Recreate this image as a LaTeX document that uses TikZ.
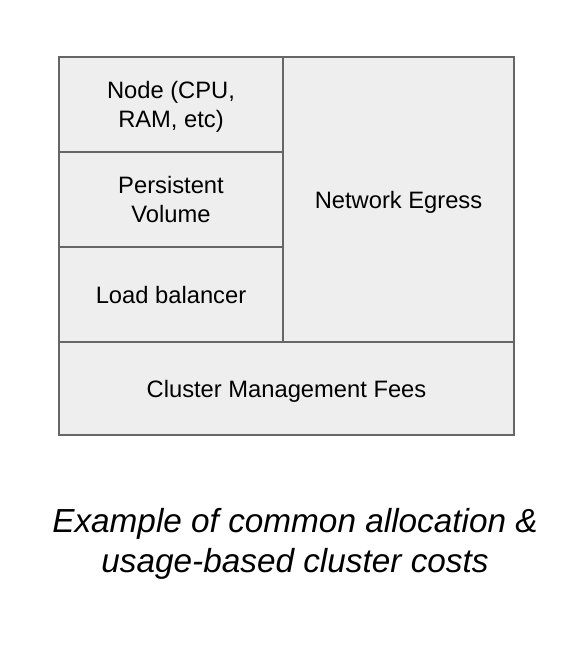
\documentclass[tikz,border=0pt]{standalone}
\usepackage{fontspec}
\setmainfont{Liberation Sans}
\usetikzlibrary{positioning}
\definecolor{cellfill}{HTML}{EEEEEE}
\definecolor{celledge}{HTML}{666666}

\begin{document}
\begin{tikzpicture}[x=0.75pt, y=-0.75pt,
    cell/.style={draw=celledge, fill=cellfill, line width=1.1pt, inner sep=0pt, outer sep=0pt,
        align=center, text depth=0pt, font=\fontsize{17.8}{21.3}\selectfont}]
        \useasboundingbox (0,0) rectangle (584,648);

        % Left column
        \node[cell, minimum width=168pt, minimum height=71.25pt] (cpu) at (171,104.5) {Node (CPU,\\RAM, etc)};
        \node[cell, minimum width=168pt, minimum height=71.25pt, below=0pt of cpu] (volume) {Persistent\\Volume};
        \node[cell, minimum width=168pt, minimum height=71.25pt, below=0pt of volume] (lb) {Load balancer};

        % Right column
        \node[cell, minimum width=173.25pt, minimum height=213.75pt, anchor=north west] (egress) at (cpu.north east) {Network Egress};

        % Bottom row
        \node[cell, minimum width=341.25pt, minimum height=69.75pt, anchor=north west] (mgmt) at (lb.south west) {Cluster Management Fees};

        % Caption
        \node[align=center, font=\fontsize{25}{30}\itshape] (caption) at (295,544) {Example of common allocation \&\\usage-based cluster costs};
    \end{tikzpicture}
\end{document}
